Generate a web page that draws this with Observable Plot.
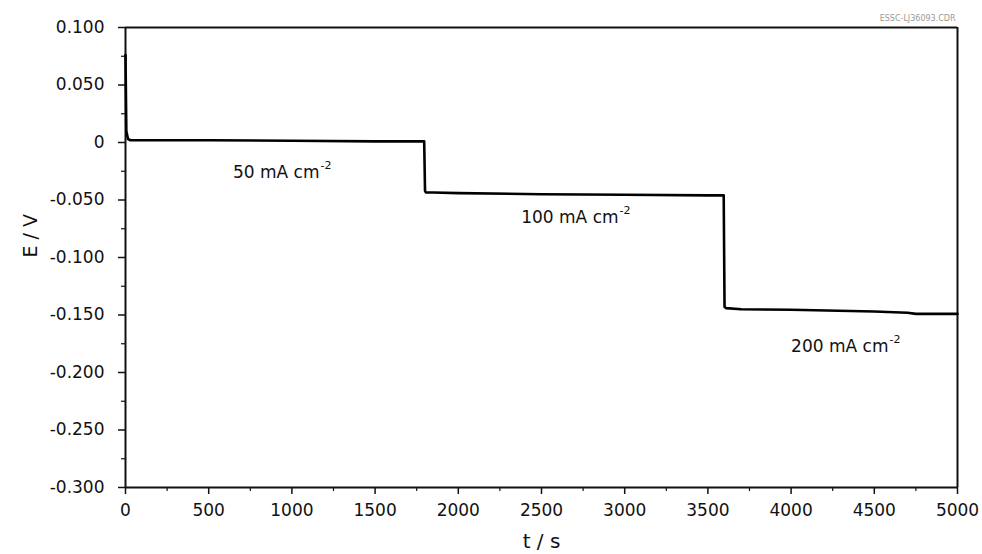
<!DOCTYPE html>
<html>
<head>
<meta charset="utf-8">
<script src="https://cdn.jsdelivr.net/npm/d3@7"></script>
<script src="https://cdn.jsdelivr.net/npm/@observablehq/plot@0.6"></script>
<style>
  html, body { margin: 0; padding: 0; background: #fff; }
</style>
</head>
<body>
<div id="chart"></div>
<script>
// Time (s) and potential (V)
const times = [0, 5, 15, 30, 100, 500, 1000, 1500, 1795, 1800, 1805, 1850, 2000, 2500, 3000, 3500, 3595, 3600, 3610, 3700, 4000, 4500, 4700, 4750, 5000];
const potentials = [0.076, 0.01, 0.003, 0.002, 0.002, 0.002, 0.0015, 0.001, 0.001, -0.042, -0.0435, -0.0435, -0.044, -0.045, -0.0455, -0.046, -0.046, -0.143, -0.144, -0.145, -0.1455, -0.147, -0.148, -0.149, -0.149];

// Annotations (position = end of "cm", superscript placed after)
const labelTexts = ["50 mA cm", "100 mA cm", "200 mA cm"];
const labelSup = ["-2", "-2", "-2"];
const labelT = [1166, 2963, 4585];
const labelE = [-0.0261, -0.0652, -0.1774];

const xTicks = [0, 500, 1000, 1500, 2000, 2500, 3000, 3500, 4000, 4500, 5000];
const xMinor = [250, 750, 1250, 1750, 2250, 2750, 3250, 3750, 4250, 4750];
const yTicks = [0.1, 0.05, 0, -0.05, -0.1, -0.15, -0.2, -0.25, -0.3];
const yMinor = [0.075, 0.025, -0.025, -0.075, -0.125, -0.175, -0.225, -0.275];
const yTickLabels = ["0.100", "0.050", "0", "-0.050", "-0.100", "-0.150", "-0.200", "-0.250", "-0.300"];

const data = times.map((t, i) => ({t, E: potentials[i]}));
const labels = labelTexts.map((s, i) => ({s, sup: labelSup[i], t: labelT[i], E: labelE[i]}));
const yFmt = v => yTickLabels[yTicks.findIndex(d => Math.abs(d - v) < 1e-9)];

const chart = Plot.plot({
  width: 982,
  height: 554,
  marginLeft: 125,
  marginRight: 25,
  marginTop: 27,
  marginBottom: 67,
  style: {fontFamily: "DejaVu Sans, Verdana, sans-serif", background: "#fff", color: "#111"},
  x: {domain: [0, 5000]},
  y: {domain: [-0.3, 0.1]},
  marks: [
    // frame
    Plot.ruleY([0.1], {stroke: "#111", strokeWidth: 2}),
    Plot.ruleX([5000], {stroke: "#111", strokeWidth: 2}),
    // minor ticks
    Plot.axisX({ticks: xMinor, tickSize: 4, tickFormat: () => "", label: null, strokeWidth: 1.2}),
    Plot.axisY({ticks: yMinor, tickSize: 4, tickFormat: () => "", label: null, strokeWidth: 1.2}),
    // major ticks
    Plot.axisX({ticks: xTicks, tickSize: 7, tickPadding: 9, tickFormat: d => String(d), fontSize: 17, label: null, strokeWidth: 1.5}),
    Plot.axisY({ticks: yTicks, tickSize: 7, tickPadding: 14, tickFormat: yFmt, fontSize: 17, label: null, strokeWidth: 1.5}),
    Plot.ruleX([0], {stroke: "#111", strokeWidth: 2}),
    Plot.ruleY([-0.3], {stroke: "#111", strokeWidth: 2}),
    // data
    Plot.line(data, {x: "t", y: "E", stroke: "#000", strokeWidth: 2.6, curve: "linear"}),
    // annotations
    Plot.text(labels, {x: "t", y: "E", text: "s", textAnchor: "end", fontSize: 17, fill: "#111"}),
    Plot.text(labels, {x: "t", y: "E", text: "sup", textAnchor: "start", dx: 1, dy: -7, fontSize: 11, fill: "#111"}),
    // axis titles
    Plot.text(["E / V"], {frameAnchor: "left", dx: -95, rotate: -90, fontSize: 19, fill: "#111"}),
    Plot.text(["t / s"], {frameAnchor: "bottom", dy: 60, fontSize: 20, fill: "#111"}),
    // watermark
    Plot.text(["ESSC-LJ36093.CDR"], {frameAnchor: "top-right", dy: -12, dx: -2, textAnchor: "end", fontSize: 8, fill: "#999"})
  ]
});
document.getElementById("chart").appendChild(chart);
</script>
</body>
</html>
